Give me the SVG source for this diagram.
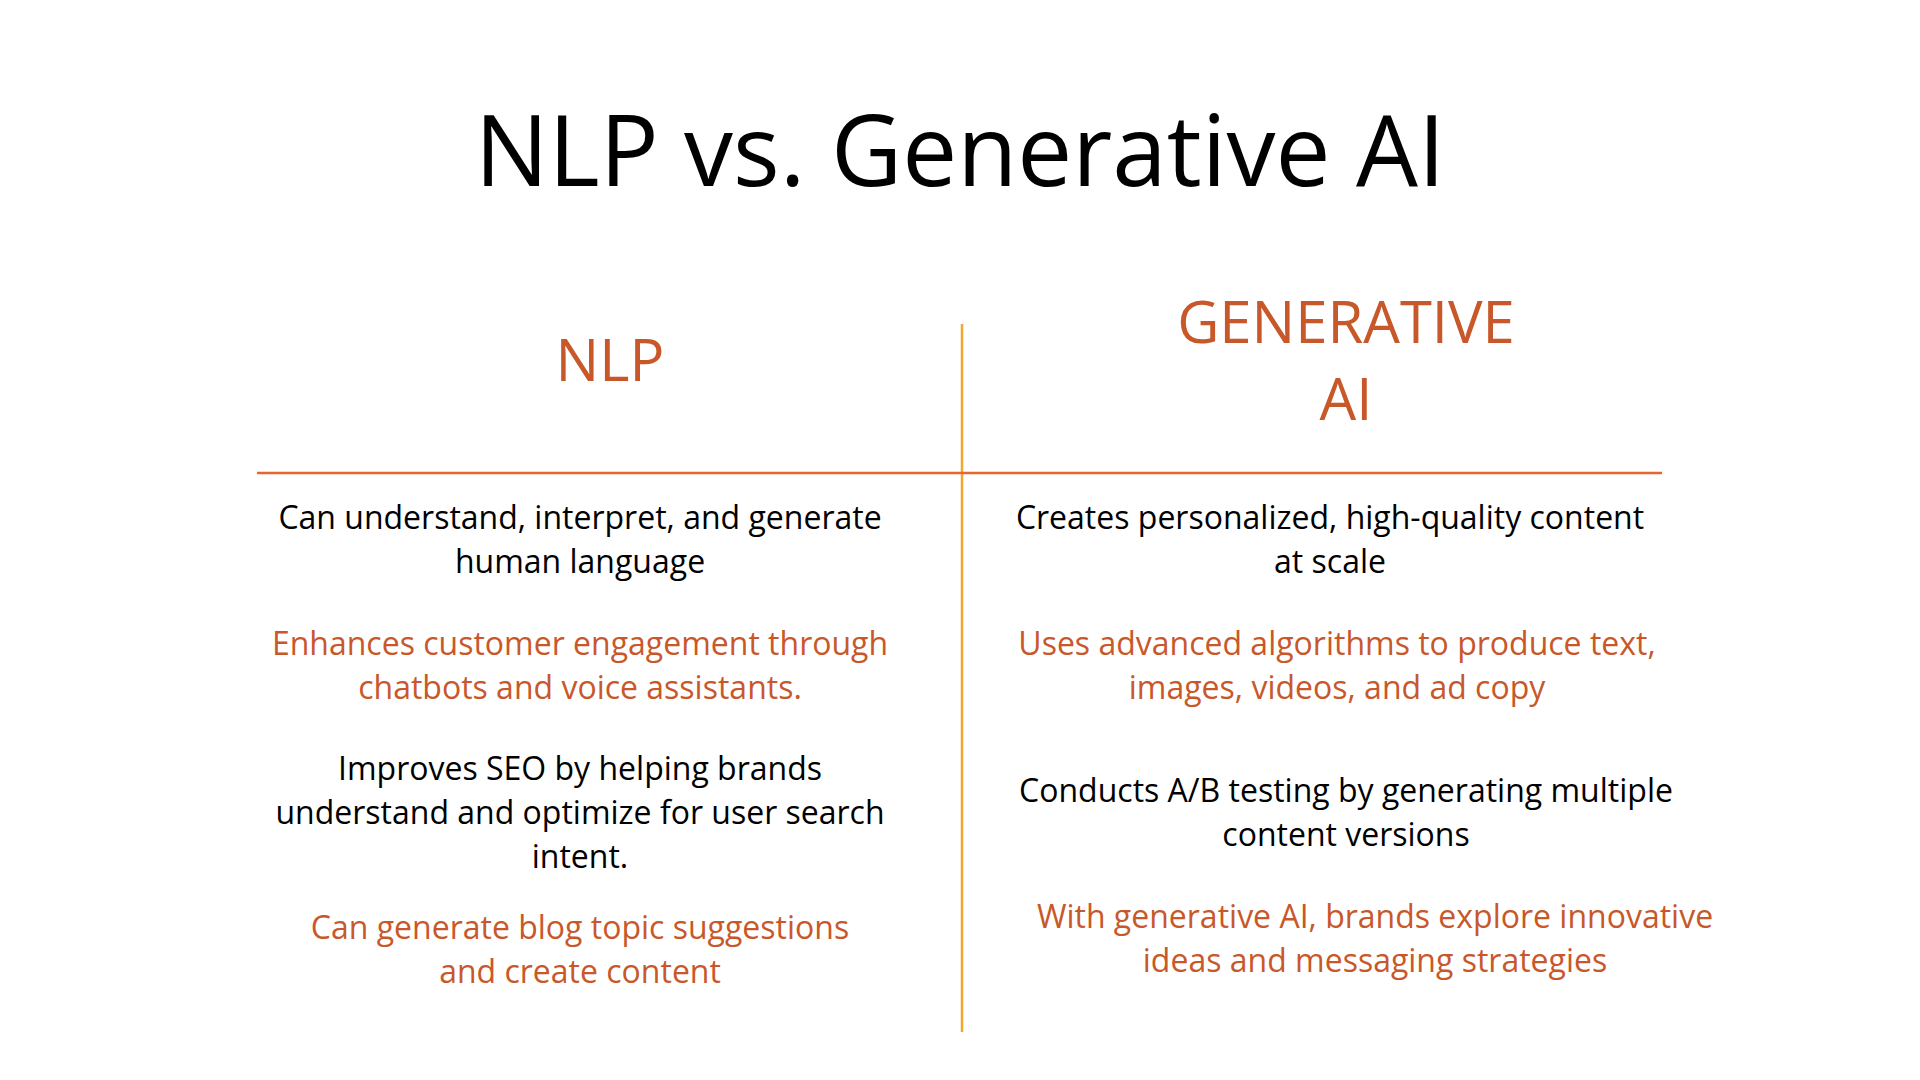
<svg xmlns="http://www.w3.org/2000/svg" width="1920" height="1080" viewBox="0 0 1920 1080">
<style>
text{font-family:"Open Sans","Noto Sans",sans-serif;text-anchor:middle}
.t{font-size:98px;fill:#000}
.h{font-size:58px;fill:#c8582a}
.b{font-size:32px;fill:#000}
.o{font-size:32px;fill:#c8582a}
</style>
<rect width="1920" height="1080" fill="#fff"/>
<g id="title"><text class="t" x="960" y="186">NLP vs. Generative AI</text></g>
<g id="connectors">
<line x1="962" y1="324" x2="962" y2="1032" stroke="#f0a830" stroke-width="2.5"/>
<line x1="257" y1="473" x2="1662" y2="473" stroke="#e8662e" stroke-width="2.5"/>
</g>
<g id="nlp-header"><text class="h" x="610" y="381">NLP</text></g>
<g id="gen-header"><text class="h" x="1346" y="343">GENERATIVE</text><text class="h" x="1346" y="420">AI</text></g>
<g id="nlp-1"><text class="b" x="580" y="529">Can understand, interpret, and generate</text><text class="b" x="580" y="573">human language</text></g>
<g id="nlp-2"><text class="o" x="580" y="655">Enhances customer engagement through</text><text class="o" x="580" y="699">chatbots and voice assistants.</text></g>
<g id="nlp-3"><text class="b" x="580" y="780">Improves SEO by helping brands</text><text class="b" x="580" y="824">understand and optimize for user search</text><text class="b" x="580" y="868">intent.</text></g>
<g id="nlp-4"><text class="o" x="580" y="939">Can generate blog topic suggestions</text><text class="o" x="580" y="983">and create content</text></g>
<g id="gen-1"><text class="b" x="1330" y="529">Creates personalized, high-quality content</text><text class="b" x="1330" y="573">at scale</text></g>
<g id="gen-2"><text class="o" x="1337" y="655">Uses advanced algorithms to produce text,</text><text class="o" x="1337" y="699">images, videos, and ad copy</text></g>
<g id="gen-3"><text class="b" x="1346" y="802">Conducts A/B testing by generating multiple</text><text class="b" x="1346" y="846">content versions</text></g>
<g id="gen-4"><text class="o" x="1375" y="928">With generative AI, brands explore innovative</text><text class="o" x="1375" y="972">ideas and messaging strategies</text></g>
</svg>
